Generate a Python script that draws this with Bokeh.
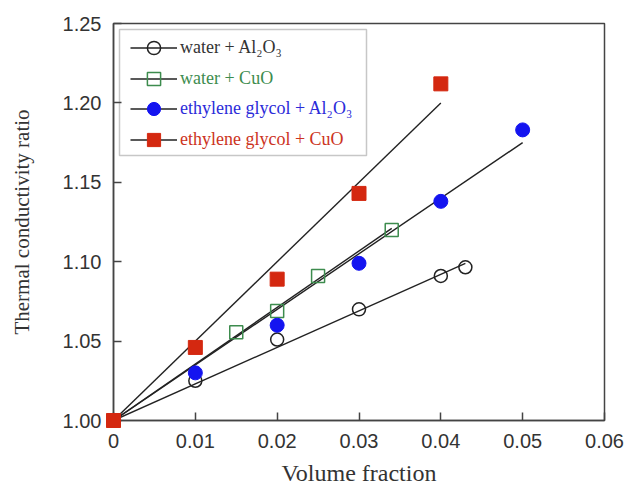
from bokeh.plotting import figure
from bokeh.models import Range1d, FixedTicker, Legend, LegendItem, BoxAnnotation
from bokeh.embed import file_html
from bokeh.resources import INLINE

# ---- data ----
x_ticks = [0, 0.01, 0.02, 0.03, 0.04, 0.05, 0.06]
x_tick_labels = ["0", "0.01", "0.02", "0.03", "0.04", "0.05", "0.06"]
y_ticks = [1.00, 1.05, 1.10, 1.15, 1.20, 1.25]
y_tick_labels = ["1.00", "1.05", "1.10", "1.15", "1.20", "1.25"]

phi_w_al = [0, 0.01, 0.02, 0.03, 0.04, 0.043]
k_w_al = [1.0, 1.025, 1.051, 1.070, 1.091, 1.0965]
phi_w_cu = [0, 0.015, 0.02, 0.025, 0.034]
k_w_cu = [1.0, 1.0556, 1.069, 1.091, 1.120]
phi_eg_al = [0, 0.01, 0.02, 0.03, 0.04, 0.05]
k_eg_al = [1.0, 1.030, 1.060, 1.099, 1.138, 1.183]
phi_eg_cu = [0, 0.01, 0.02, 0.03, 0.04]
k_eg_cu = [1.0, 1.046, 1.089, 1.143, 1.212]

# fitted straight lines (end points)
fit_w_al_x, fit_w_al_y = [0, 0.043], [1.0, 1.099]
fit_w_cu_x, fit_w_cu_y = [0, 0.034], [1.0, 1.121]
fit_eg_al_x, fit_eg_al_y = [0, 0.05], [1.0, 1.175]
fit_eg_cu_x, fit_eg_cu_y = [0, 0.04], [1.0, 1.200]

labels = ["water + Al\u2082O\u2083", "water + CuO",
          "ethylene glycol + Al\u2082O\u2083", "ethylene glycol + CuO"]
label_colors = ["#333333", "#3d8c4e", "#2b2bd9", "#cc3322"]

p = figure(width=630, height=488, output_backend="svg", toolbar_location=None,
           x_range=Range1d(0, 0.06), y_range=Range1d(1.0, 1.25))
p.min_border_left = 113
p.min_border_right = 26
p.min_border_top = 23
p.min_border_bottom = 68
p.grid.visible = False
p.outline_line_color = "#444444"
p.outline_line_width = 1.5
p.background_fill_color = "white"
p.border_fill_color = "white"

for ax, ticks, tl in ((p.xaxis[0], x_ticks, x_tick_labels), (p.yaxis[0], y_ticks, y_tick_labels)):
    ax.ticker = FixedTicker(ticks=ticks)
    ax.major_label_overrides = {t: s for t, s in zip(ticks, tl)}
    ax.major_tick_in = 8
    ax.major_tick_out = 0
    ax.minor_tick_line_color = None
    ax.axis_line_color = "#444444"
    ax.axis_line_width = 1.5
    ax.major_tick_line_color = "#444444"
    ax.major_tick_line_width = 1.5
    ax.major_label_text_font = "Liberation Sans"
    ax.major_label_text_font_size = "20px"
    ax.major_label_text_color = "#333333"
    ax.axis_label_text_font = "Liberation Serif"
    ax.axis_label_text_font_style = "normal"
    ax.axis_label_text_color = "#333333"

p.xaxis.axis_label = "Volume fraction"
p.yaxis.axis_label = "Thermal conductivity ratio"
p.xaxis.axis_label_text_font_size = "24px"
p.yaxis.axis_label_text_font_size = "21px"
p.xaxis.major_label_standoff = 13
p.xaxis.axis_label_standoff = 9
p.yaxis.major_label_standoff = 12
p.yaxis.axis_label_standoff = 26

lw = 1.4
l1 = p.line(fit_w_al_x, fit_w_al_y, line_color="#222222", line_width=lw)
l2 = p.line(fit_w_cu_x, fit_w_cu_y, line_color="#222222", line_width=lw)
l3 = p.line(fit_eg_al_x, fit_eg_al_y, line_color="#222222", line_width=lw)
l4 = p.line(fit_eg_cu_x, fit_eg_cu_y, line_color="#222222", line_width=lw)

s1 = p.scatter(phi_w_al, k_w_al, marker="circle", size=13, fill_alpha=0,
               line_color="#222222", line_width=1.5, level="overlay")
s2 = p.scatter(phi_w_cu, k_w_cu, marker="square", size=13, fill_alpha=0,
               line_color="#3d8c4e", line_width=1.5, level="overlay")
s3 = p.scatter(phi_eg_al, k_eg_al, marker="circle", size=14, fill_color="#1414f0",
               line_color="#1414f0", level="overlay")
s4 = p.scatter(phi_eg_cu, k_eg_cu, marker="square", size=14, fill_color="#d42810",
               line_color="#d42810", level="overlay")

pairs = [(l1, s1), (l2, s2), (l3, s3), (l4, s4)]
row_offsets = [373, 342, 312, 281]  # legend row centres above frame bottom (px)
gh = 33
for (ln, sc), lab, col, off in zip(pairs, labels, label_colors, row_offsets):
    leg = Legend(items=[LegendItem(label=lab, renderers=[ln, sc])],
                 location=(17, off - gh / 2), padding=0, margin=0,
                 glyph_width=47, glyph_height=gh, label_height=gh,
                 label_standoff=3, spacing=0,
                 border_line_alpha=0, background_fill_alpha=0,
                 label_text_font="Liberation Serif", label_text_font_size="18px",
                 label_text_color=col)
    p.add_layout(leg, "center")

box = BoxAnnotation(left=6, right=253, bottom=265, top=391,
                    left_units="screen", right_units="screen",
                    bottom_units="screen", top_units="screen",
                    fill_alpha=0, line_color="#444444", line_width=1.5, level="overlay")
p.add_layout(box)

open("out.html", "w").write(file_html(p, INLINE))
